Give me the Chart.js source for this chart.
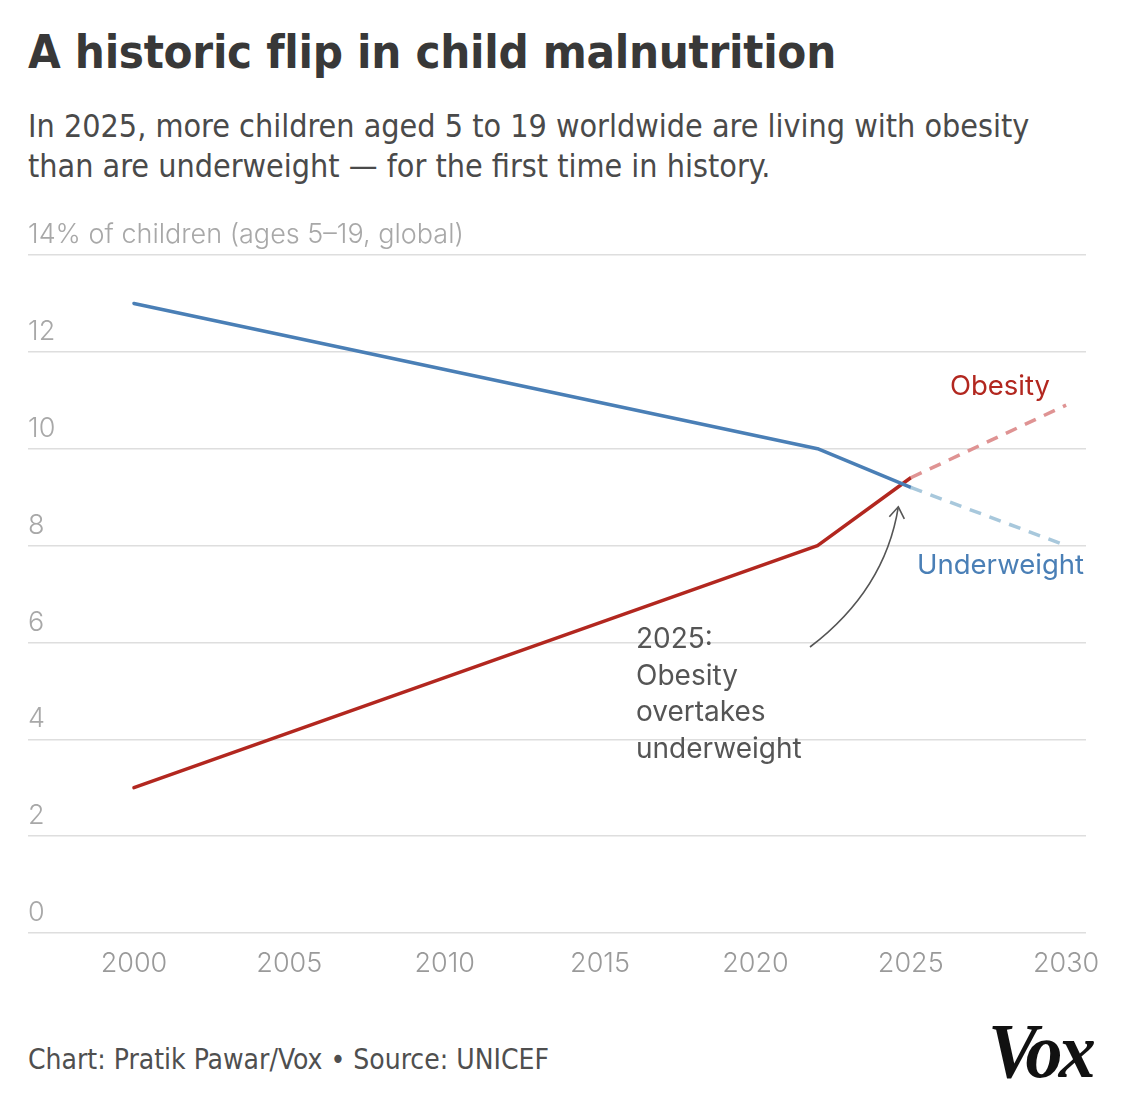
<!DOCTYPE html>
<html>
<head>
<meta charset="utf-8">
<script src="https://cdn.jsdelivr.net/npm/chart.js@4.4.1/dist/chart.umd.min.js"></script>
<style>
    html, body { margin: 0; padding: 0; background: #fff; }
    body { width: 1137px; height: 1102px; position: relative; overflow: hidden; }
    .title {
        position: absolute; left: 28px; top: 24px;
        font-family: "DejaVu Sans Condensed", sans-serif;
        font-weight: bold; font-size: 47px; color: #383838; letter-spacing: -0.3px;
        white-space: nowrap;
    }
    .subtitle {
        position: absolute; left: 28px; top: 106px;
        font-family: "DejaVu Sans Condensed", sans-serif;
        font-size: 32px; line-height: 40px; color: #4a4a4a; white-space: nowrap;
    }
    .chart-wrap { position: absolute; left: 0; top: 200px; width: 1137px; height: 800px; }
    .footer {
        position: absolute; left: 28px; top: 1043px;
        font-family: "DejaVu Sans Condensed", sans-serif;
        font-size: 28px; color: #4f4f4f; white-space: nowrap;
    }
    .logo {
        position: absolute; left: 988px; top: 1006px;
        font-family: "Liberation Serif", "DejaVu Serif", serif;
        font-weight: bold; font-style: italic; font-size: 78px; color: #111;
        letter-spacing: -4px; transform: scaleX(0.95); transform-origin: left top;
    }
</style>
</head>
<body>
<div class="title">A historic flip in child malnutrition</div>
<div class="subtitle">In 2025, more children aged 5 to 19 worldwide are living with obesity<br>than are underweight — for the first time in history.</div>
<div class="chart-wrap"><canvas id="chart"></canvas></div>
<div class="footer">Chart: Pratik Pawar/Vox • Source: UNICEF</div>
<div class="logo">Vox</div>

<script>
// Observed values (share of children aged 5-19, %)
const years = [2000, 2022, 2025];
const underweight = [13.0, 10.0, 9.2];
const obesity = [3.0, 8.0, 9.4];

// Projections
const projYears = [2025, 2030];
const underweightProj = [9.2, 8.0];
const obesityProj = [9.4, 10.9];

const xTicks = [2000, 2005, 2010, 2015, 2020, 2025, 2030];
const yTicks = [0, 2, 4, 6, 8, 10, 12, 14];
const yTopLabel = '14% of children (ages 5–19, global)';

const BLUE = '#4a7fb6';
const RED = '#b2271f';
const BLUE_LIGHT = '#a8c8dc';
const RED_LIGHT = '#df9393';
const AXIS_FONT = '"Inter", "Lato", sans-serif';

const toPoints = (xs, ys) => xs.map((x, i) => ({ x: x, y: ys[i] }));

// Series labels + the 2025 callout with its curved arrow
const annotationPlugin = {
    id: 'annotations',
    afterDatasetsDraw(chart) {
        const ctx = chart.ctx;
        const xs = chart.scales.x;
        const ys = chart.scales.y;
        ctx.save();

        ctx.font = '400 27.5px ' + AXIS_FONT;
        ctx.textBaseline = 'middle';
        ctx.textAlign = 'right';
        ctx.fillStyle = RED;
        ctx.fillText('Obesity', 1050, 387 - 200);
        ctx.fillStyle = BLUE;
        ctx.fillText('Underweight', 1084, 566 - 200);

        ctx.font = '400 28px ' + AXIS_FONT;
        ctx.textAlign = 'left';
        ctx.fillStyle = '#555';
        ['2025:', 'Obesity', 'overtakes', 'underweight'].forEach((line, i) => {
            ctx.fillText(line, 636, 640 - 200 + i * 36.5);
        });

        // Arrow from the callout to the crossing point
        const tipX = xs.getPixelForValue(2024.6);
        const tipY = ys.getPixelForValue(8.8);
        ctx.strokeStyle = '#555';
        ctx.lineWidth = 1.6;
        ctx.beginPath();
        ctx.moveTo(810, 647 - 200);
        ctx.quadraticCurveTo(885, 590 - 200, tipX, tipY);
        ctx.stroke();
        ctx.beginPath();
        ctx.moveTo(tipX - 9, tipY + 10);
        ctx.lineTo(tipX, tipY);
        ctx.lineTo(tipX + 6, tipY + 12);
        ctx.stroke();
        ctx.restore();
    }
};

const lineStyle = {
    borderWidth: 3.5,
    pointRadius: 0,
    pointHoverRadius: 0,
    fill: false,
    tension: 0,
    borderCapStyle: 'round',
    borderJoinStyle: 'round'
};

new Chart(document.getElementById('chart'), {
    type: 'line',
    data: {
        datasets: [
            Object.assign({ label: 'Underweight (projected)', data: toPoints(projYears, underweightProj),
                borderColor: BLUE_LIGHT, borderDash: [12, 9] }, lineStyle, { borderCapStyle: 'butt' }),
            Object.assign({ label: 'Obesity (projected)', data: toPoints(projYears, obesityProj),
                borderColor: RED_LIGHT, borderDash: [12, 9] }, lineStyle, { borderCapStyle: 'butt' }),
            Object.assign({ label: 'Underweight', data: toPoints(years, underweight),
                borderColor: BLUE }, lineStyle),
            Object.assign({ label: 'Obesity', data: toPoints(years, obesity),
                borderColor: RED }, lineStyle)
        ]
    },
    options: {
        responsive: true,
        maintainAspectRatio: false,
        animation: false,
        layout: { padding: { left: 28, right: 51, top: 55, bottom: 0 } },
        plugins: { legend: { display: false }, tooltip: { enabled: false } },
        scales: {
            x: {
                type: 'linear',
                min: 1996.59,
                max: 2030.64,
                afterBuildTicks: (scale) => { scale.ticks = xTicks.map(v => ({ value: v })); },
                afterFit: (scale) => { scale.height = 67; },
                grid: { display: false, drawTicks: false },
                border: { display: false },
                ticks: {
                    padding: 15,
                    color: '#9a9a9a',
                    font: { family: AXIS_FONT, size: 27, weight: 300 },
                    maxRotation: 0,
                    callback: (v) => String(v)
                }
            },
            y: {
                min: 0,
                max: 14,
                afterBuildTicks: (scale) => { scale.ticks = yTicks.map(v => ({ value: v })); },
                afterFit: (scale) => { scale.width = 0; },
                grid: { color: '#dedede', lineWidth: 1.5, drawTicks: false },
                border: { display: false },
                ticks: {
                    mirror: true,
                    padding: 0,
                    labelOffset: -20,
                    color: '#a8a8a8',
                    font: { family: AXIS_FONT, size: 27, weight: 300 },
                    callback: (v) => v === 14 ? yTopLabel : String(v)
                }
            }
        }
    },
    plugins: [annotationPlugin]
});
</script>
</body>
</html>
